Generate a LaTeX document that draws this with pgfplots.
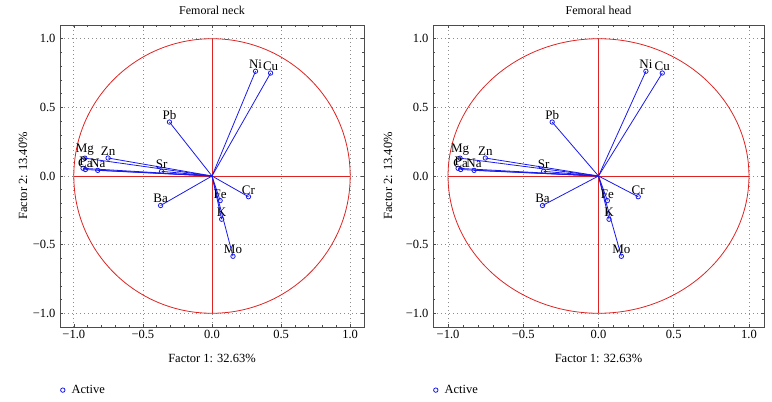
\documentclass[border=0pt]{standalone}
\usepackage{fontspec}
\setmainfont{Liberation Serif}
\usepackage{pgfplots}
\pgfplotsset{compat=1.18}
\usepackage{pgfplotstable}

\definecolor{pblue}{RGB}{25,25,235}
\definecolor{pred}{RGB}{222,35,35}

\pgfplotstableread{
x y lab
-0.920 0.130 Mg
-0.933 0.056 P
-0.916 0.047 Ca
-0.827 0.041 Na
-0.752 0.131 Zn
-0.365 0.034 Sr
-0.308 0.393 Pb
-0.372 -0.215 Ba
0.315 0.763 Ni
0.424 0.750 Cu
0.264 -0.151 Cr
0.059 -0.179 Fe
0.070 -0.315 K
0.152 -0.585 Mo
}\data

\pgfplotsset{
  pcastyle/.style={
    scale only axis,
    height=302pt,
    xmin=-1.1, xmax=1.1, ymin=-1.1, ymax=1.1,
    xtick={-1,-0.5,0,0.5,1},
    ytick={-1,-0.5,0,0.5,1},
    xticklabels={−1.0,−0.5,0.0,0.5,1.0},
    yticklabels={−1.0,−0.5,0.0,0.5,1.0},
    minor tick num=4,
    tick align=inside,
    major tick length=3pt,
    minor tick length=2pt,
    tick style={black!70, line width=0.5pt},
    axis line style={black!70, line width=0.8pt},
    grid=major,
    major grid style={black!45, dash pattern=on 1pt off 3pt, line width=0.7pt},
    tick label style={font=\fontsize{12.5}{14}\selectfont},
    yticklabel style={xshift=-1pt},
    label style={font=\fontsize{12.5}{14}\selectfont},
    title style={font=\fontsize{12}{14}\selectfont, yshift=1pt},
    xlabel={Factor 1: 32.63\%},
    ylabel={Factor 2: 13.40\%},
    xlabel style={at={(axis description cs:0.5,-0.1026)}, anchor=center},
    legend style={draw=none, fill=none, at={(axis description cs:0,-0.209)}, anchor=west,
      font=\fontsize{12.5}{14}\selectfont, inner sep=0pt, legend cell align=left},
    legend image code/.code={\path[draw=none, fill=none] (0,0) -- (9pt,0); \draw[pblue, line width=0.8pt, fill=none] (2.2pt,0) circle (2.2pt);},
  },
  ptsstyle/.style={pblue, only marks, mark=o, mark size=2.2pt, mark options={line width=0.8pt},
    nodes near coords, point meta=explicit symbolic,
    every node near coord/.append style={text=black, anchor=south, inner sep=2pt,
    font=\fontsize{13}{15}\selectfont}},
  vecstyle/.style={pblue, line width=0.8pt, forget plot, quiver={u=\thisrow{x}, v=\thisrow{y}}},
}

\begin{document}
\begin{tikzpicture}
\useasboundingbox (0,0) rectangle (772pt,402pt);
% ---------- Femoral neck ----------
\begin{axis}[pcastyle, at={(60pt,75pt)}, anchor=south west, width=304pt,
  title={Femoral neck},
  ylabel style={at={(axis description cs:-0.1217,0.5)}, anchor=center}]
\addplot[pred, line width=0.8pt, forget plot] coordinates {(-1,0) (1,0)};
\addplot[pred, line width=0.8pt, forget plot] coordinates {(0,-1) (0,1)};
\draw[pred, line width=0.8pt] (axis cs:0,0) ellipse [x radius=1, y radius=1];
\addplot[vecstyle] table[x expr=0, y expr=0] {\data};
\addplot[ptsstyle] table[x=x, y=y, meta=lab] {\data};
\addlegendentry{Active}
\end{axis}
% ---------- Femoral head ----------
\begin{axis}[pcastyle, at={(433pt,75pt)}, anchor=south west, width=331pt,
  title={Femoral head},
  ylabel style={at={(axis description cs:-0.136,0.5)}, anchor=center}]
\addplot[pred, line width=0.8pt, forget plot] coordinates {(-1,0) (1,0)};
\addplot[pred, line width=0.8pt, forget plot] coordinates {(0,-1) (0,1)};
\draw[pred, line width=0.8pt] (axis cs:0,0) ellipse [x radius=1, y radius=1];
\addplot[vecstyle] table[x expr=0, y expr=0] {\data};
\addplot[ptsstyle] table[x=x, y=y, meta=lab] {\data};
\addlegendentry{Active}
\end{axis}
\end{tikzpicture}
\end{document}
